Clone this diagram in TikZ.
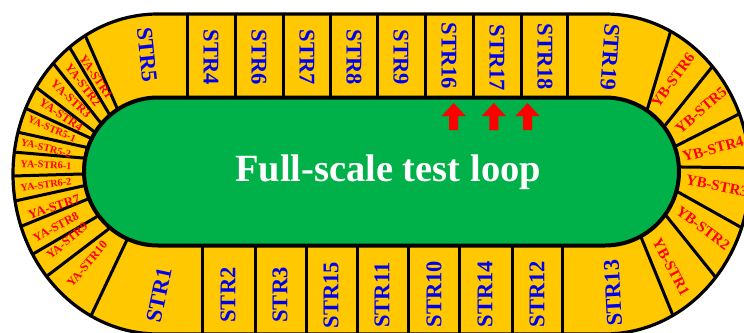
\documentclass[tikz,border=0pt]{standalone}
\usepackage{fontspec}
\setmainfont{Liberation Serif}
\usetikzlibrary{calc}
\definecolor{trackyellow}{RGB}{255,200,0}
\definecolor{loopgreen}{RGB}{0,176,72}
\definecolor{labelblue}{RGB}{0,0,240}
\begin{document}
\begin{tikzpicture}[x=1pt,y=-1pt,
  divider/.style={line width=3pt,black},
  border/.style={line width=3.2pt,black},
  strlabel/.style={text=labelblue,font=\bfseries\fontsize{22.5}{22.5}\selectfont,inner sep=0pt},
  toplabel/.style={strlabel,rotate=-90},
  botlabel/.style={strlabel,rotate=90},
  yalabel/.style={text=red,font=\bfseries\fontsize{12}{12}\selectfont,inner sep=0pt},
  yasmall/.style={text=red,font=\bfseries\fontsize{10.3}{10.3}\selectfont,inner sep=0pt},
  yblabel/.style={text=red,font=\bfseries\fontsize{15}{15}\selectfont,inner sep=0pt},
  titletext/.style={text=white,font=\bfseries\fontsize{38.5}{38.5}\selectfont,inner sep=0pt},
  uparrow/.style={fill=red,draw=none}]
\useasboundingbox (0,0) rectangle (744,332);
% yellow track
\fill[trackyellow] (158,14) -- (605,14) arc[start angle=-90,end angle=90,x radius=145,y radius=160]
  -- (158,334) arc[start angle=90,end angle=270,x radius=145,y radius=160] -- cycle;
\begin{scope}
\clip (158,14) -- (605,14) arc[start angle=-90,end angle=90,x radius=145,y radius=160]
  -- (158,334) arc[start angle=90,end angle=270,x radius=145,y radius=160] -- cycle;
% straight dividers
\foreach \x in {187,235,283,330,377,425,473,521,567} \draw[divider] (\x,10) -- (\x,100);
\foreach \x in {202,255,306,357,408,459,512,562} \draw[divider] (\x,243) -- (\x,340);
% left curved dividers (outer, inner)
\foreach \ox/\oy/\ix/\iy in {85/35/117/108, 70/48/108/112, 53/63/100/122, 37/88/92/130,
  25/108/88/137, 17/132/85/147, 13/152/83/158, 13/176/82/174, 15/201/83/186,
  22/226/88/199, 33/254/98/216, 47/276/110/228, 90/318/125/244}
  \draw[divider] ($(\ix,\iy)!-0.2!(\ox,\oy)$) -- ($(\ox,\oy)!-0.2!(\ix,\iy)$);
% right curved dividers (outer, inner)
\foreach \ox/\oy/\ix/\iy in {671/30/648/107, 712/67/667/123, 741/113/678/145,
  760/168/682/167, 744/229/678/192, 717/279/668/218, 674/318/643/242}
  \draw[divider] ($(\ix,\iy)!-0.2!(\ox,\oy)$) -- ($(\ox,\oy)!-0.2!(\ix,\iy)$);
\end{scope}
\draw[border] (158,14) -- (605,14) arc[start angle=-90,end angle=90,x radius=145,y radius=160]
  -- (158,334) arc[start angle=90,end angle=270,x radius=145,y radius=160] -- cycle;
% green loop
\draw[line width=4pt,fill=loopgreen,rounded corners=74pt] (84,97.5) rectangle (679,245.5);
\node[titletext] (title) at (388,172) {Full-scale test loop};
% top labels
\node[strlabel,rotate=-84] (s5) at (147,55) {STR5};
\node[toplabel] (s4) at (211,57) {STR4};
\node[toplabel] (s6) at (259,57) {STR6};
\node[toplabel] (s7) at (307,57) {STR7};
\node[toplabel] (s8) at (354,57) {STR8};
\node[toplabel] (s9) at (401,57) {STR9};
\node[toplabel] (s16) at (449,56) {STR16};
\node[toplabel] (s17) at (497,58) {STR17};
\node[toplabel] (s18) at (545,57) {STR18};
\node[strlabel,rotate=-94] (s19) at (610,57) {STR19};
% bottom labels
\node[strlabel,rotate=78] (s1) at (159,295) {STR1};
\node[botlabel] (s2) at (228,295) {STR2};
\node[botlabel] (s3) at (280,295) {STR3};
\node[botlabel] (s15) at (331,295) {STR15};
\node[botlabel] (s11) at (382,295) {STR11};
\node[botlabel] (s10) at (434,294) {STR10};
\node[botlabel] (s14) at (485,294) {STR14};
\node[botlabel] (s12) at (537,294) {STR12};
\node[strlabel,rotate=93] (s13) at (613,293) {STR13};
% YA labels
\node[yalabel,rotate=-56] (ya1) at (96,77) {YA-STR1};
\node[yalabel,rotate=-52] (ya2) at (83,85) {YA-STR2};
\node[yalabel,rotate=-43] (ya3) at (71,99) {YA-STR3};
\node[yalabel,rotate=-34] (ya4) at (61,115) {YA-STR4};
\node[yasmall,rotate=-24] (ya51) at (52,129) {YA-STR5-1};
\node[yasmall,rotate=-14] (ya52) at (46,148) {YA-STR5-2};
\node[yasmall,rotate=-3] (ya61) at (46,165) {YA-STR6-1};
\node[yasmall,rotate=8] (ya62) at (46,185) {YA-STR6-2};
\node[yalabel,font=\bfseries\fontsize{13}{13}\selectfont,rotate=18] (ya7) at (54,207) {YA-STR7};
\node[yalabel,rotate=28] (ya8) at (56,227) {YA-STR8};
\node[yalabel,rotate=40] (ya9) at (67,241) {YA-STR9};
\node[yalabel,rotate=50] (ya10) at (87,264) {YA-STR10};
% YB labels
\node[yblabel,rotate=54] (yb6) at (673,80) {YB-STR6};
\node[yblabel,rotate=41] (yb5) at (701,110) {YB-STR5};
\node[yblabel,rotate=15] (yb4) at (713,149) {YB-STR4};
\node[yblabel,rotate=-11] (yb3) at (717,186) {YB-STR3};
\node[yblabel,rotate=-37] (yb2) at (703,228) {YB-STR2};
\node[yblabel,rotate=-62] (yb1) at (671,267) {YB-STR1};
% red arrows
\foreach \c [count=\i] in {453.7,493.8,527.5}
  \fill[uparrow] (\c,103) -- (\c+12,116) -- (\c+4.5,116) -- (\c+4.5,130)
    -- (\c-4.5,130) -- (\c-4.5,116) -- (\c-12,116) -- cycle;
\end{tikzpicture}
\end{document}
